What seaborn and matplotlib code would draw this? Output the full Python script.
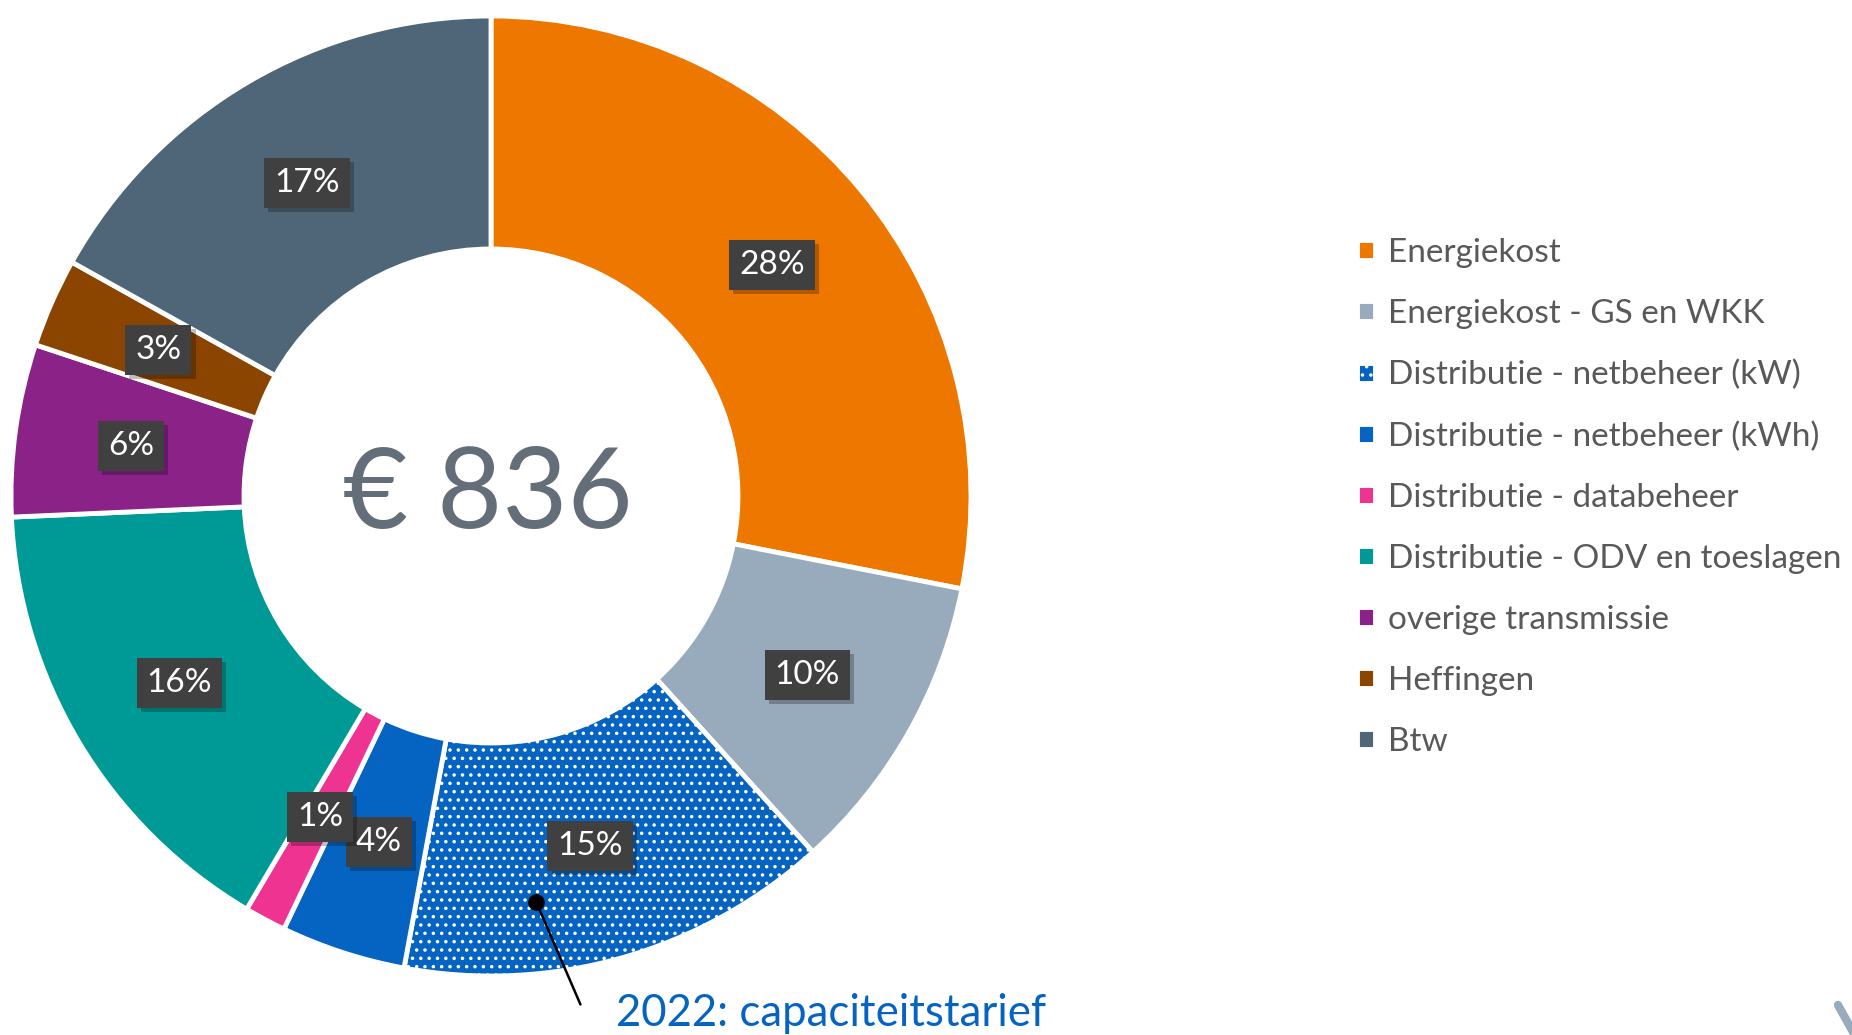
import numpy as np
import matplotlib
matplotlib.use("Agg")
import matplotlib.pyplot as plt
import matplotlib.patheffects as pe
import seaborn as sns

# cost breakdown (share of yearly bill, %)
categories = [
    "Energiekost",
    "Energiekost - GS en WKK",
    "Distributie - netbeheer (kW)",
    "Distributie - netbeheer (kWh)",
    "Distributie - databeheer",
    "Distributie - ODV en toeslagen",
    "overige transmissie",
    "Heffingen",
    "Btw",
]
shares = [28.1, 10.2, 14.6, 4.2, 1.4, 15.8, 5.8, 3.0, 16.9]
hex_colors = ["#EE7700", "#97ABBC", "#0563C1", "#0563C1", "#EE3390",
              "#009A96", "#8B2287", "#8B4500", "#4F6679"]
hatched = "Distributie - netbeheer (kW)"
total_label = "€ 836"
callout_text = "2022: capaciteitstarief"

W, H = 1852, 1035
sns.set_theme(style="white")
plt.rcParams["font.family"] = ["Lato", "DejaVu Sans"]
plt.rcParams["hatch.linewidth"] = 1.3
palette = sns.color_palette(hex_colors)

fig = plt.figure(figsize=(W / 100, H / 100), dpi=100)
ax = fig.add_axes([0, 0, 1, 1])

# donut geometry in pixel units
cx, cy = 491, H - 496
r_out, r_in = 480, 247

wedges, _ = ax.pie(shares, colors=palette, startangle=90, counterclock=False,
                   radius=r_out, center=(cx, cy),
                   wedgeprops=dict(width=r_out - r_in, edgecolor="white", linewidth=3.5))
ax.set_xlim(0, W)
ax.set_ylim(0, H)
ax.set_aspect("equal")
ax.axis("off")

for w, name in zip(wedges, categories):
    if name == hatched:
        w.set_hatch("..")

# percentage labels in dark boxes
r_mid = (r_out + r_in) / 2
for w, val in zip(wedges, shares):
    ang = np.deg2rad((w.theta1 + w.theta2) / 2)
    t = ax.text(cx + r_mid * np.cos(ang), cy + r_mid * np.sin(ang), f"{round(val)}%",
                ha="center", va="center", fontsize=24, color="white",
                bbox=dict(boxstyle="square,pad=0.3", fc="#404040", ec="none"))
    t.get_bbox_patch().set_path_effects([
        pe.withSimplePatchShadow(offset=(3, -3), shadow_rgbFace="black", alpha=0.25),
        pe.Normal()])

# total in the hole
ax.text(cx - 3, cy, total_label, ha="center", va="center", fontsize=81, color="#646E78")

# callout to the capacity-tariff slice
kw = wedges[categories.index(hatched)]
a = np.deg2rad(kw.theta1 + 0.32 * (kw.theta2 - kw.theta1))
px, py = cx + 409 * np.cos(a), cy + 409 * np.sin(a)
ax.annotate("", xy=(px, py), xytext=(px + 44, py - 102),
            arrowprops=dict(arrowstyle="-", color="black", lw=1.8, shrinkA=0, shrinkB=0))
ax.plot([px], [py], "o", color="black", ms=11)
ax.text(616, 22, callout_text, ha="left", va="center", fontsize=31.5, color="#0563C1")

# legend
ax.legend(wedges, categories, loc="upper left", bbox_to_anchor=(1357 / W, 1 - 238 / H),
          bbox_transform=fig.transFigure, frameon=False, fontsize=24,
          handlelength=0.55, handleheight=0.55, handletextpad=0.38,
          labelspacing=0.93, borderpad=0, borderaxespad=0, labelcolor="#595959")

# fragment of logo in the corner
ax.plot([1838, 1858], [30, -6], color="#97ABBC", lw=6, solid_capstyle="round", clip_on=False)

fig.savefig("out.png", dpi=100)
